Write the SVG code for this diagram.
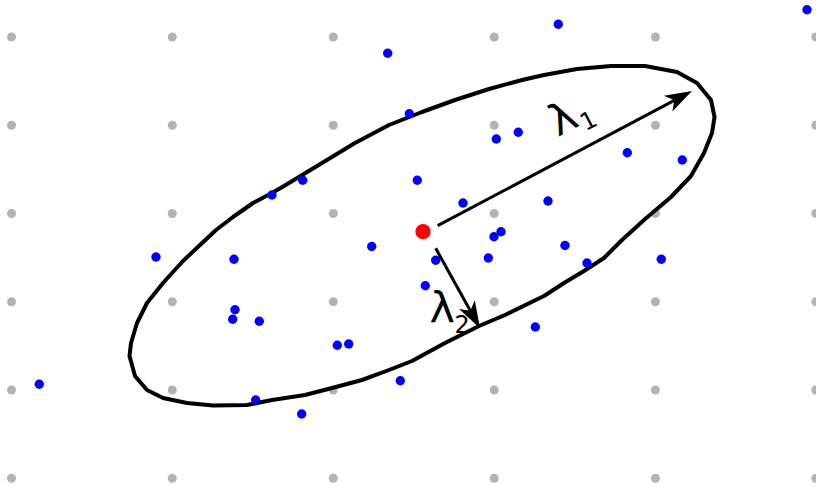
<svg xmlns="http://www.w3.org/2000/svg" width="816" height="486" viewBox="0 0 816 486">
<style>
.g{fill:#b3b3b3}
.b{fill:#0000ff}
.ell{fill:none;stroke:#000;stroke-width:4;stroke-linejoin:round;stroke-linecap:round}
.ar{fill:none;stroke:#000;stroke-width:3}
.lab{font-family:"DejaVu Sans",sans-serif;fill:#000}
</style>
<defs>
<marker id="ah" markerUnits="userSpaceOnUse" orient="auto" overflow="visible" refX="0" refY="0" markerWidth="1" markerHeight="1">
<path d="M20,0 L-7,-9 L0,0 L-7,9 Z" fill="#000"/>
</marker>
</defs>
<rect width="816" height="486" fill="#fff"/>
<g id="grid">
<g transform="translate(0,37)"><circle class="g" cx="11.5" cy="0" r="4.5"/><circle class="g" cx="172.3" cy="0" r="4.5"/><circle class="g" cx="333.3" cy="0" r="4.5"/><circle class="g" cx="494.2" cy="0" r="4.5"/><circle class="g" cx="655.4" cy="0" r="4.5"/><circle class="g" cx="815.8" cy="0" r="4.5"/></g>
<g transform="translate(0,125.3)"><circle class="g" cx="11.5" cy="0" r="4.5"/><circle class="g" cx="172.3" cy="0" r="4.5"/><circle class="g" cx="333.3" cy="0" r="4.5"/><circle class="g" cx="494.2" cy="0" r="4.5"/><circle class="g" cx="655.4" cy="0" r="4.5"/><circle class="g" cx="815.8" cy="0" r="4.5"/></g>
<g transform="translate(0,213.5)"><circle class="g" cx="11.5" cy="0" r="4.5"/><circle class="g" cx="172.3" cy="0" r="4.5"/><circle class="g" cx="333.3" cy="0" r="4.5"/><circle class="g" cx="494.2" cy="0" r="4.5"/><circle class="g" cx="655.4" cy="0" r="4.5"/><circle class="g" cx="815.8" cy="0" r="4.5"/></g>
<g transform="translate(0,301.7)"><circle class="g" cx="11.5" cy="0" r="4.5"/><circle class="g" cx="172.3" cy="0" r="4.5"/><circle class="g" cx="333.3" cy="0" r="4.5"/><circle class="g" cx="494.2" cy="0" r="4.5"/><circle class="g" cx="655.4" cy="0" r="4.5"/><circle class="g" cx="815.8" cy="0" r="4.5"/></g>
<g transform="translate(0,390)"><circle class="g" cx="11.5" cy="0" r="4.5"/><circle class="g" cx="172.3" cy="0" r="4.5"/><circle class="g" cx="333.3" cy="0" r="4.5"/><circle class="g" cx="494.2" cy="0" r="4.5"/><circle class="g" cx="655.4" cy="0" r="4.5"/><circle class="g" cx="815.8" cy="0" r="4.5"/></g>
<g transform="translate(0,478.2)"><circle class="g" cx="11.5" cy="0" r="4.5"/><circle class="g" cx="172.3" cy="0" r="4.5"/><circle class="g" cx="333.3" cy="0" r="4.5"/><circle class="g" cx="494.2" cy="0" r="4.5"/><circle class="g" cx="655.4" cy="0" r="4.5"/><circle class="g" cx="815.8" cy="0" r="4.5"/></g>
</g>
<g id="ellipse">
<path class="ell" d="M272,193 L289,183 L322,163 L355,143 L389,125 L422,112 L455,100 L489,89 L522,80 L544,75 L577,69 L611,66 L645,66 L677,72 L697,83 L711,100 L714.5,117 L712,133 L704,153 L691,176 L671,197 L644,220 L622,240 L604,258 L584,271 L564,283 L544,296 L505,315 L479,326 L445,343 L412,361 L389,370 L362,380 L332,388 L305,395 L272,400 L247,405 L213,405.5 L187,403 L163,398 L147,390 L135,376 L129.5,356 L131,343 L137,323 L147,303 L163,283 L183,261 L200,245 L216,230 L233,217 L253,203 Z"/>
</g>
<g id="points">
<circle class="b" cx="387.7" cy="53.3" r="4.7"/>
<circle class="b" cx="409.3" cy="113.7" r="4.7"/>
<circle class="b" cx="518.3" cy="132.3" r="4.7"/>
<circle class="b" cx="496.3" cy="139" r="4.7"/>
<circle class="b" cx="302.7" cy="180.3" r="4.7"/>
<circle class="b" cx="417.3" cy="180.3" r="4.7"/>
<circle class="b" cx="463" cy="203" r="4.7"/>
<circle class="b" cx="494" cy="236.7" r="4.7"/>
<circle class="b" cx="501" cy="231.7" r="4.7"/>
<circle class="b" cx="272" cy="195" r="4.7"/>
<circle class="b" cx="558.3" cy="24.3" r="4.7"/>
<circle class="b" cx="807" cy="9.7" r="4.7"/>
<circle class="b" cx="627.3" cy="152.7" r="4.7"/>
<circle class="b" cx="682.3" cy="160" r="4.7"/>
<circle class="b" cx="548" cy="201" r="4.7"/>
<circle class="b" cx="565" cy="245.5" r="4.7"/>
<circle class="b" cx="587" cy="263" r="4.7"/>
<circle class="b" cx="661.3" cy="259.3" r="4.7"/>
<circle class="b" cx="488.3" cy="258" r="4.7"/>
<circle class="b" cx="435.7" cy="260.3" r="4.7"/>
<circle class="b" cx="371.7" cy="246.5" r="4.7"/>
<circle class="b" cx="234" cy="259.3" r="4.7"/>
<circle class="b" cx="156" cy="257" r="4.7"/>
<circle class="b" cx="235" cy="309.7" r="4.7"/>
<circle class="b" cx="232.7" cy="319.3" r="4.7"/>
<circle class="b" cx="259.3" cy="321.3" r="4.7"/>
<circle class="b" cx="39.3" cy="384.3" r="4.7"/>
<circle class="b" cx="255.7" cy="400" r="4.7"/>
<circle class="b" cx="425.3" cy="285.7" r="4.7"/>
<circle class="b" cx="337.3" cy="345.3" r="4.7"/>
<circle class="b" cx="348.7" cy="344" r="4.7"/>
<circle class="b" cx="400.3" cy="380.7" r="4.7"/>
<circle class="b" cx="301.7" cy="414" r="4.7"/>
<circle class="b" cx="535.3" cy="327" r="4.7"/>
</g>
<g id="mean"><circle cx="423" cy="231.7" r="7.6" fill="#ff0000"/></g>
<g id="connectors">
<path class="ar" d="M437.7,225.7 L674.33,100.36" marker-end="url(#ah)"/>
<path class="ar" d="M435.7,248.3 L470.31,310.8" marker-end="url(#ah)"/>
</g>
<g id="label1" transform="translate(558,137) rotate(-27.7)">
<text class="lab" x="0" y="0" font-size="43">λ</text>
<text class="lab" x="27" y="8" font-size="24">1</text>
</g>
<g id="label2">
<text class="lab" x="429.5" y="323" font-size="43">λ</text>
<text class="lab" x="454.5" y="333" font-size="24">2</text>
</g>
</svg>
